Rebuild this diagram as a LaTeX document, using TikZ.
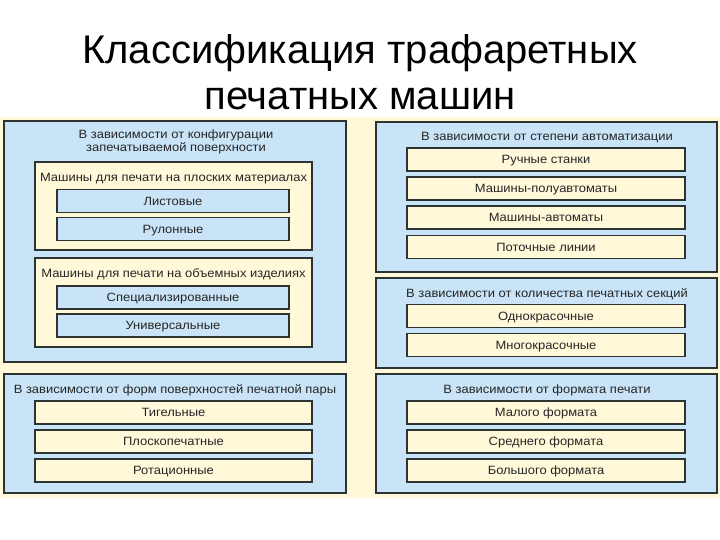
\documentclass[tikz,border=0pt]{standalone}
\usepackage{fontspec}
\setmainfont{Liberation Sans}
\newfontfamily\boxfont{Liberation Sans}[FakeStretch=1.08]
\usepackage{tikz}
\usetikzlibrary{positioning}

\definecolor{paneblue}{RGB}{200,228,246}
\definecolor{panecream}{RGB}{255,249,218}
\definecolor{edgegray}{RGB}{45,50,50}

\begin{document}
\begin{tikzpicture}[
    x=1pt, y=-1pt,
    every node/.style={font=\boxfont\fontsize{12}{13}\selectfont, text=black!85},
    groupbox/.style={rectangle, draw=edgegray, line width=1.3pt, fill=paneblue, inner sep=0pt},
    subgroup/.style={rectangle, draw=edgegray, line width=1.3pt, fill=panecream, inner sep=0pt},
    itembox/.style={rectangle, draw=edgegray, line width=1.3pt, minimum height=23pt, inner sep=0pt, align=center, text height=9.6pt, text depth=1pt},
    headtext/.style={align=center, inner sep=0pt},
    headline/.style={inner sep=0pt, text height=9.6pt, text depth=1pt}
]
\useasboundingbox (0,0) rectangle (720,540);

% Title
\node[font=\rmfamily\fontsize{40}{46}\selectfont, text=black, align=center] (title) at (360,72) {Классификация трафаретных\\печатных машин};

% Background panel
\node[rectangle, fill=panecream, minimum width=720pt, minimum height=381pt, inner sep=0pt] (bg) at (360,307.5) {};

% Configuration of printed surface
\node[groupbox, minimum width=342pt, minimum height=241pt] (cfg) at (175,241.5) {};
\node[headtext] (cfghead) at (176,142) {В зависимости от конфигурации\\запечатываемой поверхности};
\node[subgroup, minimum width=277pt, minimum height=88pt] (flat) at (173.5,206) {};
\node[headline] (flathead) at (173.5,177) {Машины для печати на плоских материалах};
\node[itembox, fill=paneblue, minimum width=232pt] (f1) at (173,201) {Листовые};
\node[itembox, fill=paneblue, minimum width=232pt] (f2) at (173,229) {Рулонные};
\node[subgroup, minimum width=277pt, minimum height=89pt] (vol) at (173.5,302.5) {};
\node[headline] (volhead) at (173.5,273) {Машины для печати на объемных изделиях};
\node[itembox, fill=paneblue, minimum width=232pt] (v1) at (173,297.5) {Специализированные};
\node[itembox, fill=paneblue, minimum width=232pt] (v2) at (173,325.5) {Универсальные};

% Degree of automation
\node[groupbox, minimum width=341pt, minimum height=150pt] (auto) at (546.5,197) {};
\node[headline] (autohead) at (547,136) {В зависимости от степени автоматизации};
\node[itembox, fill=panecream, minimum width=278pt] (a1) at (546,159.5) {Ручные станки};
\node[itembox, fill=panecream, minimum width=278pt] (a2) at (546,188.5) {Машины-полуавтоматы};
\node[itembox, fill=panecream, minimum width=278pt] (a3) at (546,217.5) {Машины-автоматы};
\node[itembox, fill=panecream, minimum width=278pt] (a4) at (546,247) {Поточные линии};

% Number of printing sections
\node[groupbox, minimum width=341pt, minimum height=90pt] (sec) at (546.5,323) {};
\node[headline] (sechead) at (547,293) {В зависимости от количества печатных секций};
\node[itembox, fill=panecream, minimum width=278pt] (s1) at (546,316) {Однокрасочные};
\node[itembox, fill=panecream, minimum width=278pt] (s2) at (546,345) {Многокрасочные};

% Surfaces of the printing pair
\node[groupbox, minimum width=342pt, minimum height=119pt] (pair) at (175,433.5) {};
\node[headline] (pairhead) at (175,389) {В зависимости от форм поверхностей печатной пары};
\node[itembox, fill=panecream, minimum width=277pt] (p1) at (173.5,412.5) {Тигельные};
\node[itembox, fill=panecream, minimum width=277pt] (p2) at (173.5,441.5) {Плоскопечатные};
\node[itembox, fill=panecream, minimum width=277pt] (p3) at (173.5,470.5) {Ротационные};

% Print format
\node[groupbox, minimum width=341pt, minimum height=119pt] (fmt) at (546.5,433.5) {};
\node[headline] (fmthead) at (547,389) {В зависимости от формата печати};
\node[itembox, fill=panecream, minimum width=278pt] (m1) at (546,412.5) {Малого формата};
\node[itembox, fill=panecream, minimum width=278pt] (m2) at (546,441.5) {Среднего формата};
\node[itembox, fill=panecream, minimum width=278pt] (m3) at (546,470.5) {Большого формата};

\end{tikzpicture}
\end{document}
